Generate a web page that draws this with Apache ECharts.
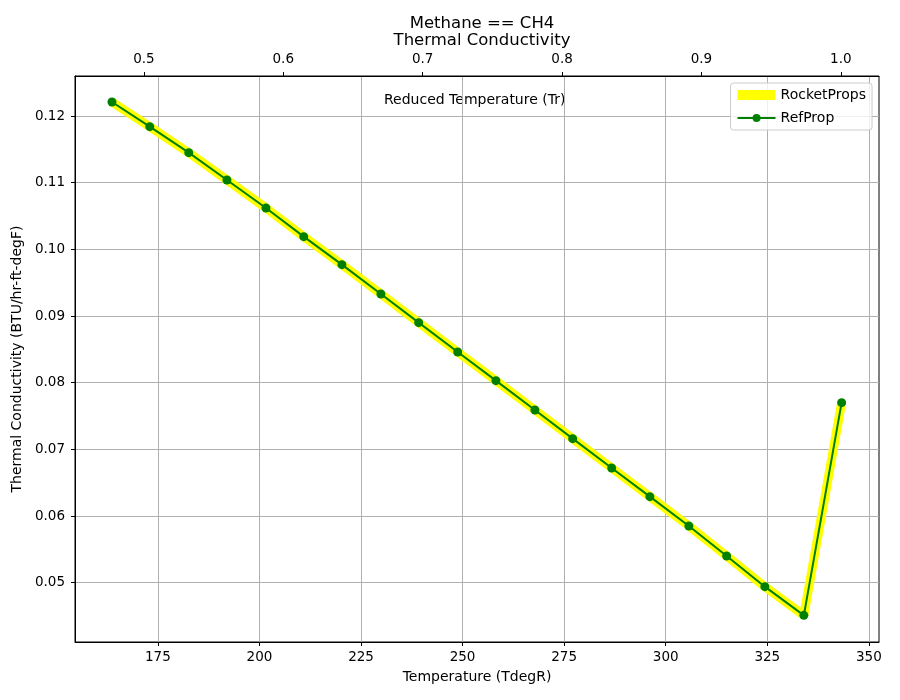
<!DOCTYPE html>
<html>
<head>
<meta charset="utf-8">
<script src="https://cdn.jsdelivr.net/npm/echarts@6/dist/echarts.min.js"></script>
<style>
  html, body { margin: 0; padding: 0; background: #fff; }
  #main { width: 900px; height: 700px; }
</style>
</head>
<body>
<div id="main"></div>
<script>
// temperature points (degR)
var tempR = [163.7, 173.0, 182.6, 192.0, 201.6, 210.9, 220.3, 229.9, 239.2, 248.8,
             258.2, 267.8, 277.1, 286.7, 296.1, 305.7, 315.0, 324.4, 334.0, 343.3]
// thermal conductivity, BTU/hr-ft-degF
var rocketProps = [0.1221, 0.1184, 0.1145, 0.1104, 0.1062, 0.1019, 0.0977, 0.0933, 0.0890, 0.0846,
                   0.0803, 0.0759, 0.0716, 0.0672, 0.0629, 0.0585, 0.0540, 0.0494, 0.0451, 0.0770]
var refProp = [0.1221, 0.1184, 0.1145, 0.1104, 0.1062, 0.1019, 0.0977, 0.0933, 0.0890, 0.0846,
               0.0803, 0.0759, 0.0716, 0.0672, 0.0629, 0.0585, 0.0540, 0.0494, 0.0451, 0.0770]
// tick labels
var tempTicks = [175, 200, 225, 250, 275, 300, 325, 350]
var trTicks = [0.5, 0.6, 0.7, 0.8, 0.9, 1.0]
var condTicks = [0.05, 0.06, 0.07, 0.08, 0.09, 0.10, 0.11, 0.12]
var tCrit = 343.1

var xMin = 154.6, xMax = 352.5
var yMin = 0.0411, yMax = 0.126
var font = 'DejaVu Sans'

var chart = echarts.init(document.getElementById('main'))

function pairs(xs, ys) {
  return xs.map(function(x, i) { return [x, ys[i]] })
}

var option = {
  backgroundColor: '#fff',
  animation: false,
  textStyle: { fontFamily: font },
  title: {
    text: 'Methane == CH4\nThermal Conductivity',
    left: 477,
    textAlign: 'center',
    top: 10,
    textStyle: { fontFamily: font, fontSize: 16.5, fontWeight: 'normal', color: '#000', lineHeight: 17 }
  },
  graphic: [
    {
      type: 'text',
      left: 384,
      top: 93,
      style: { text: 'Reduced Temperature (Tr)', fontFamily: font, fontSize: 14, fill: '#000' }
    }
  ],
  legend: {
    orient: 'vertical',
    right: 28,
    top: 83,
    padding: [5, 6, 5, 6],
    itemGap: 9,
    itemWidth: 38,
    itemHeight: 10,
    backgroundColor: 'rgba(255,255,255,0.8)',
    borderColor: '#ccc',
    borderWidth: 1,
    borderRadius: 3,
    textStyle: { fontFamily: font, fontSize: 14, color: '#000' },
    data: [
      { name: 'RocketProps', icon: 'rect', itemStyle: { color: '#ffff00' } },
      'RefProp'
    ]
  },
  grid: {
    left: 75, right: 21, top: 76, bottom: 58,
    show: true, borderColor: '#000', borderWidth: 1,
    containLabel: false
  },
  xAxis: [
    {
      type: 'value',
      position: 'bottom',
      min: xMin, max: xMax,
      name: 'Temperature (TdegR)',
      nameLocation: 'middle', nameGap: 28,
      nameTextStyle: { fontFamily: font, fontSize: 14, color: '#000' },
      axisLine: { show: true, lineStyle: { color: '#000' } },
      axisTick: { show: true, length: 4, customValues: tempTicks, lineStyle: { color: '#000' } },
      axisLabel: { customValues: tempTicks, color: '#000', fontSize: 13.5, margin: 8 },
      splitLine: { show: true, lineStyle: { color: '#b0b0b0', width: 1 } }
    },
    {
      type: 'value',
      position: 'top',
      min: xMin / tCrit, max: xMax / tCrit,
      axisLine: { show: true, lineStyle: { color: '#000' } },
      axisTick: { show: true, length: 4, customValues: trTicks, lineStyle: { color: '#000' } },
      axisLabel: { customValues: trTicks, color: '#000', fontSize: 13.5, margin: 10,
                   formatter: function(v) { return v.toFixed(1) } },
      splitLine: { show: false }
    }
  ],
  yAxis: {
    type: 'value',
    min: yMin, max: yMax,
    name: 'Thermal Conductivity (BTU/hr-ft-degF)',
    nameLocation: 'middle', nameGap: 51,
    nameTextStyle: { fontFamily: font, fontSize: 14, color: '#000' },
    axisLine: { show: true, lineStyle: { color: '#000' } },
    axisTick: { show: true, length: 4, customValues: condTicks, lineStyle: { color: '#000' } },
    axisLabel: { customValues: condTicks, color: '#000', fontSize: 13.5, margin: 10,
                 formatter: function(v) { return v.toFixed(2) } },
    splitLine: { show: true, lineStyle: { color: '#b0b0b0', width: 1 } }
  },
  series: [
    {
      name: 'RocketProps',
      type: 'line',
      xAxisIndex: 0,
      data: pairs(tempR, rocketProps),
      symbol: 'none',
      lineStyle: { color: '#ffff00', width: 9 },
      itemStyle: { color: '#ffff00' },
      z: 2
    },
    {
      name: 'RefProp',
      type: 'line',
      xAxisIndex: 0,
      data: pairs(tempR, refProp),
      symbol: 'circle',
      symbolSize: 9,
      lineStyle: { color: '#008000', width: 2 },
      itemStyle: { color: '#008000' },
      z: 3
    }
  ]
}

chart.setOption(option)
</script>
</body>
</html>
